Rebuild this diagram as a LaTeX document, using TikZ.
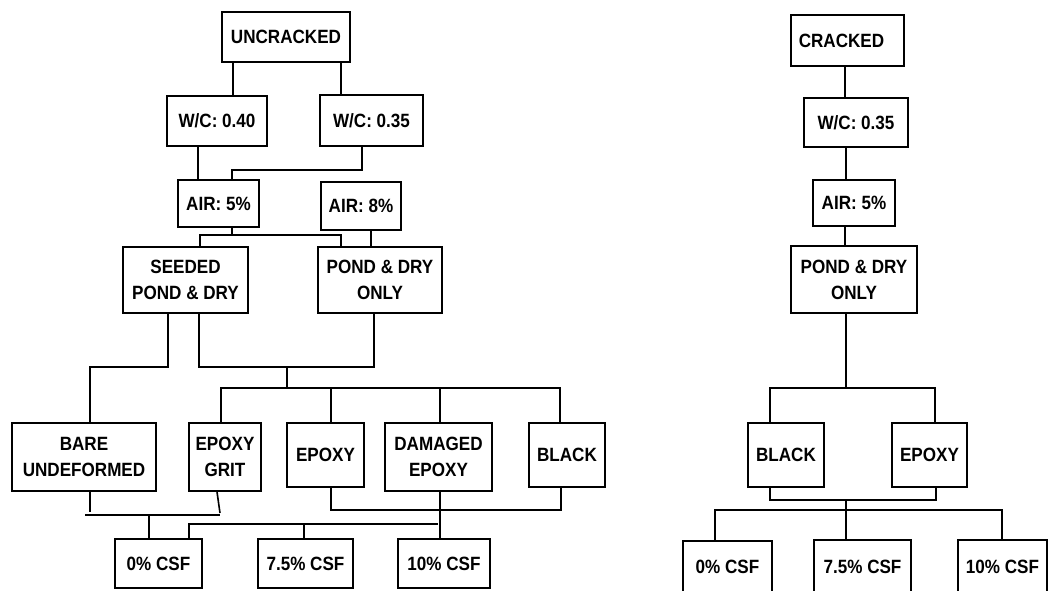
\documentclass[tikz,border=0pt]{standalone}
\usepackage{fontspec}
\setmainfont{Liberation Sans}[FakeStretch=0.89]
\begin{document}
\begin{tikzpicture}[x=1pt,y=-1pt,
  box/.style={draw, rectangle, line width=1.7pt, align=center, inner sep=0pt, font=\fontsize{19.2}{26}\selectfont\bfseries},
  ln/.style={line width=1.6pt}]
\useasboundingbox (0,0) rectangle (1048,590);
\clip (0,0) rectangle (1048,590);
% ---------- left tree ----------
\node[box,minimum width=128pt,minimum height=50pt] (unc) at (286,37) {UNCRACKED};
\node[box,minimum width=100pt,minimum height=50pt] (wc40) at (217,121) {W/C: 0.40};
\node[box,minimum width=103pt,minimum height=51pt] (wc35) at (371.5,120.5) {W/C: 0.35};
\node[box,minimum width=81pt,minimum height=47pt] (air5) at (218.5,203.5) {AIR: 5\%};
\node[box,minimum width=80pt,minimum height=48pt] (air8) at (361,206) {AIR: 8\%};
\node[box,minimum width=125pt,minimum height=66pt] (seed) at (185.5,280) {SEEDED\\POND \& DRY};
\node[box,minimum width=124pt,minimum height=66pt] (pdo) at (380,280) {POND \& DRY\\ONLY};
\node[box,minimum width=144pt,minimum height=68pt] (bare) at (84,457) {BARE\\UNDEFORMED};
\node[box,minimum width=72pt,minimum height=68pt] (egrit) at (225,457) {EPOXY\\GRIT};
\node[box,minimum width=77pt,minimum height=64pt] (epoxy) at (325.5,455) {EPOXY};
\node[box,minimum width=107pt,minimum height=68pt] (dmg) at (438.5,457) {DAMAGED\\EPOXY};
\node[box,minimum width=76pt,minimum height=64pt] (black) at (567,455) {BLACK};
\node[box,minimum width=87pt,minimum height=49pt] (c0) at (158.5,563.5) {0\% CSF};
\node[box,minimum width=95pt,minimum height=49pt] (c75) at (305.5,563.5) {7.5\% CSF};
\node[box,minimum width=92pt,minimum height=49pt] (c10) at (444,563.5) {10\% CSF};
% connectors
\draw[ln] (233,0 |- unc.south) -- (233,0 |- wc40.north);
\draw[ln] (341,0 |- unc.south) -- (341,0 |- wc35.north);
\draw[ln] (198,0 |- wc40.south) -- (198,0 |- air5.north);
\draw[ln] (362,0 |- wc35.south) -- (362,170) -- (232,170) -- (232,0 |- air5.north);
\draw[ln] (232,0 |- air5.south) -- (232,235) -- (200,235) -- (200,0 |- seed.north);
\draw[ln] (232,235) -- (341,235) -- (341,0 |- pdo.north);
\draw[ln] (371,0 |- air8.south) -- (371,0 |- pdo.north);
\draw[ln] (168,0 |- seed.south) -- (168,367) -- (90,367) -- (90,0 |- bare.north);
\draw[ln] (199,0 |- seed.south) -- (199,367) -- (374,367) -- (374,0 |- pdo.south);
\draw[ln] (287,367) -- (287,388);
\draw[ln] (221,0 |- egrit.north) -- (221,388) -- (560,388) -- (560,0 |- black.north);
\draw[ln] (331,388) -- (331,0 |- epoxy.north);
\draw[ln] (440,388) -- (440,0 |- dmg.north);
\draw[ln] (90,0 |- bare.south) -- (90,512);
\draw[ln] (217,0 |- egrit.south) -- (220,513);
\draw[ln] (85,515) -- (220,515);
\draw[ln] (149,515) -- (149,0 |- c0.north);
\draw[ln] (331,0 |- epoxy.south) -- (331,510) -- (561,510) -- (561,0 |- black.south);
\draw[ln] (440,0 |- dmg.south) -- (440,0 |- c10.north);
\draw[ln] (189,0 |- c0.north) -- (189,524) -- (438,524);
\draw[ln] (304,524) -- (304,0 |- c75.north);
% ---------- right tree ----------
\node[box,minimum width=113pt,minimum height=51pt] (rcr) at (847.5,40.5) {CRACKED\hspace{12pt}};
\node[box,minimum width=104pt,minimum height=49pt] (rwc) at (856,122.5) {W/C: 0.35};
\node[box,minimum width=82pt,minimum height=46pt] (rair) at (854,203) {AIR: 5\%};
\node[box,minimum width=126pt,minimum height=67pt] (rpd) at (854,279.5) {POND \& DRY\\ONLY};
\node[box,minimum width=76pt,minimum height=64pt] (rblack) at (786,455) {BLACK};
\node[box,minimum width=75pt,minimum height=64pt] (repoxy) at (929.5,455) {EPOXY};
\node[box,minimum width=89pt,minimum height=52pt] (r0) at (727.5,567) {0\% CSF};
\node[box,minimum width=97pt,minimum height=53pt] (r75) at (862.5,566.5) {7.5\% CSF};
\node[box,minimum width=89pt,minimum height=53pt] (r10) at (1002.5,566.5) {10\% CSF};
\draw[ln] (845,0 |- rcr.south) -- (845,0 |- rwc.north);
\draw[ln] (846,0 |- rwc.south) -- (846,0 |- rair.north);
\draw[ln] (845,0 |- rair.south) -- (845,0 |- rpd.north);
\draw[ln] (846,0 |- rpd.south) -- (846,388);
\draw[ln] (770,0 |- rblack.north) -- (770,388) -- (935,388) -- (935,0 |- repoxy.north);
\draw[ln] (770,0 |- rblack.south) -- (770,500) -- (936,500) -- (936,0 |- repoxy.south);
\draw[ln] (846,500) -- (846,0 |- r75.north);
\draw[ln] (715,0 |- r0.north) -- (715,510) -- (1002,510) -- (1002,0 |- r10.north);
\end{tikzpicture}
\end{document}
